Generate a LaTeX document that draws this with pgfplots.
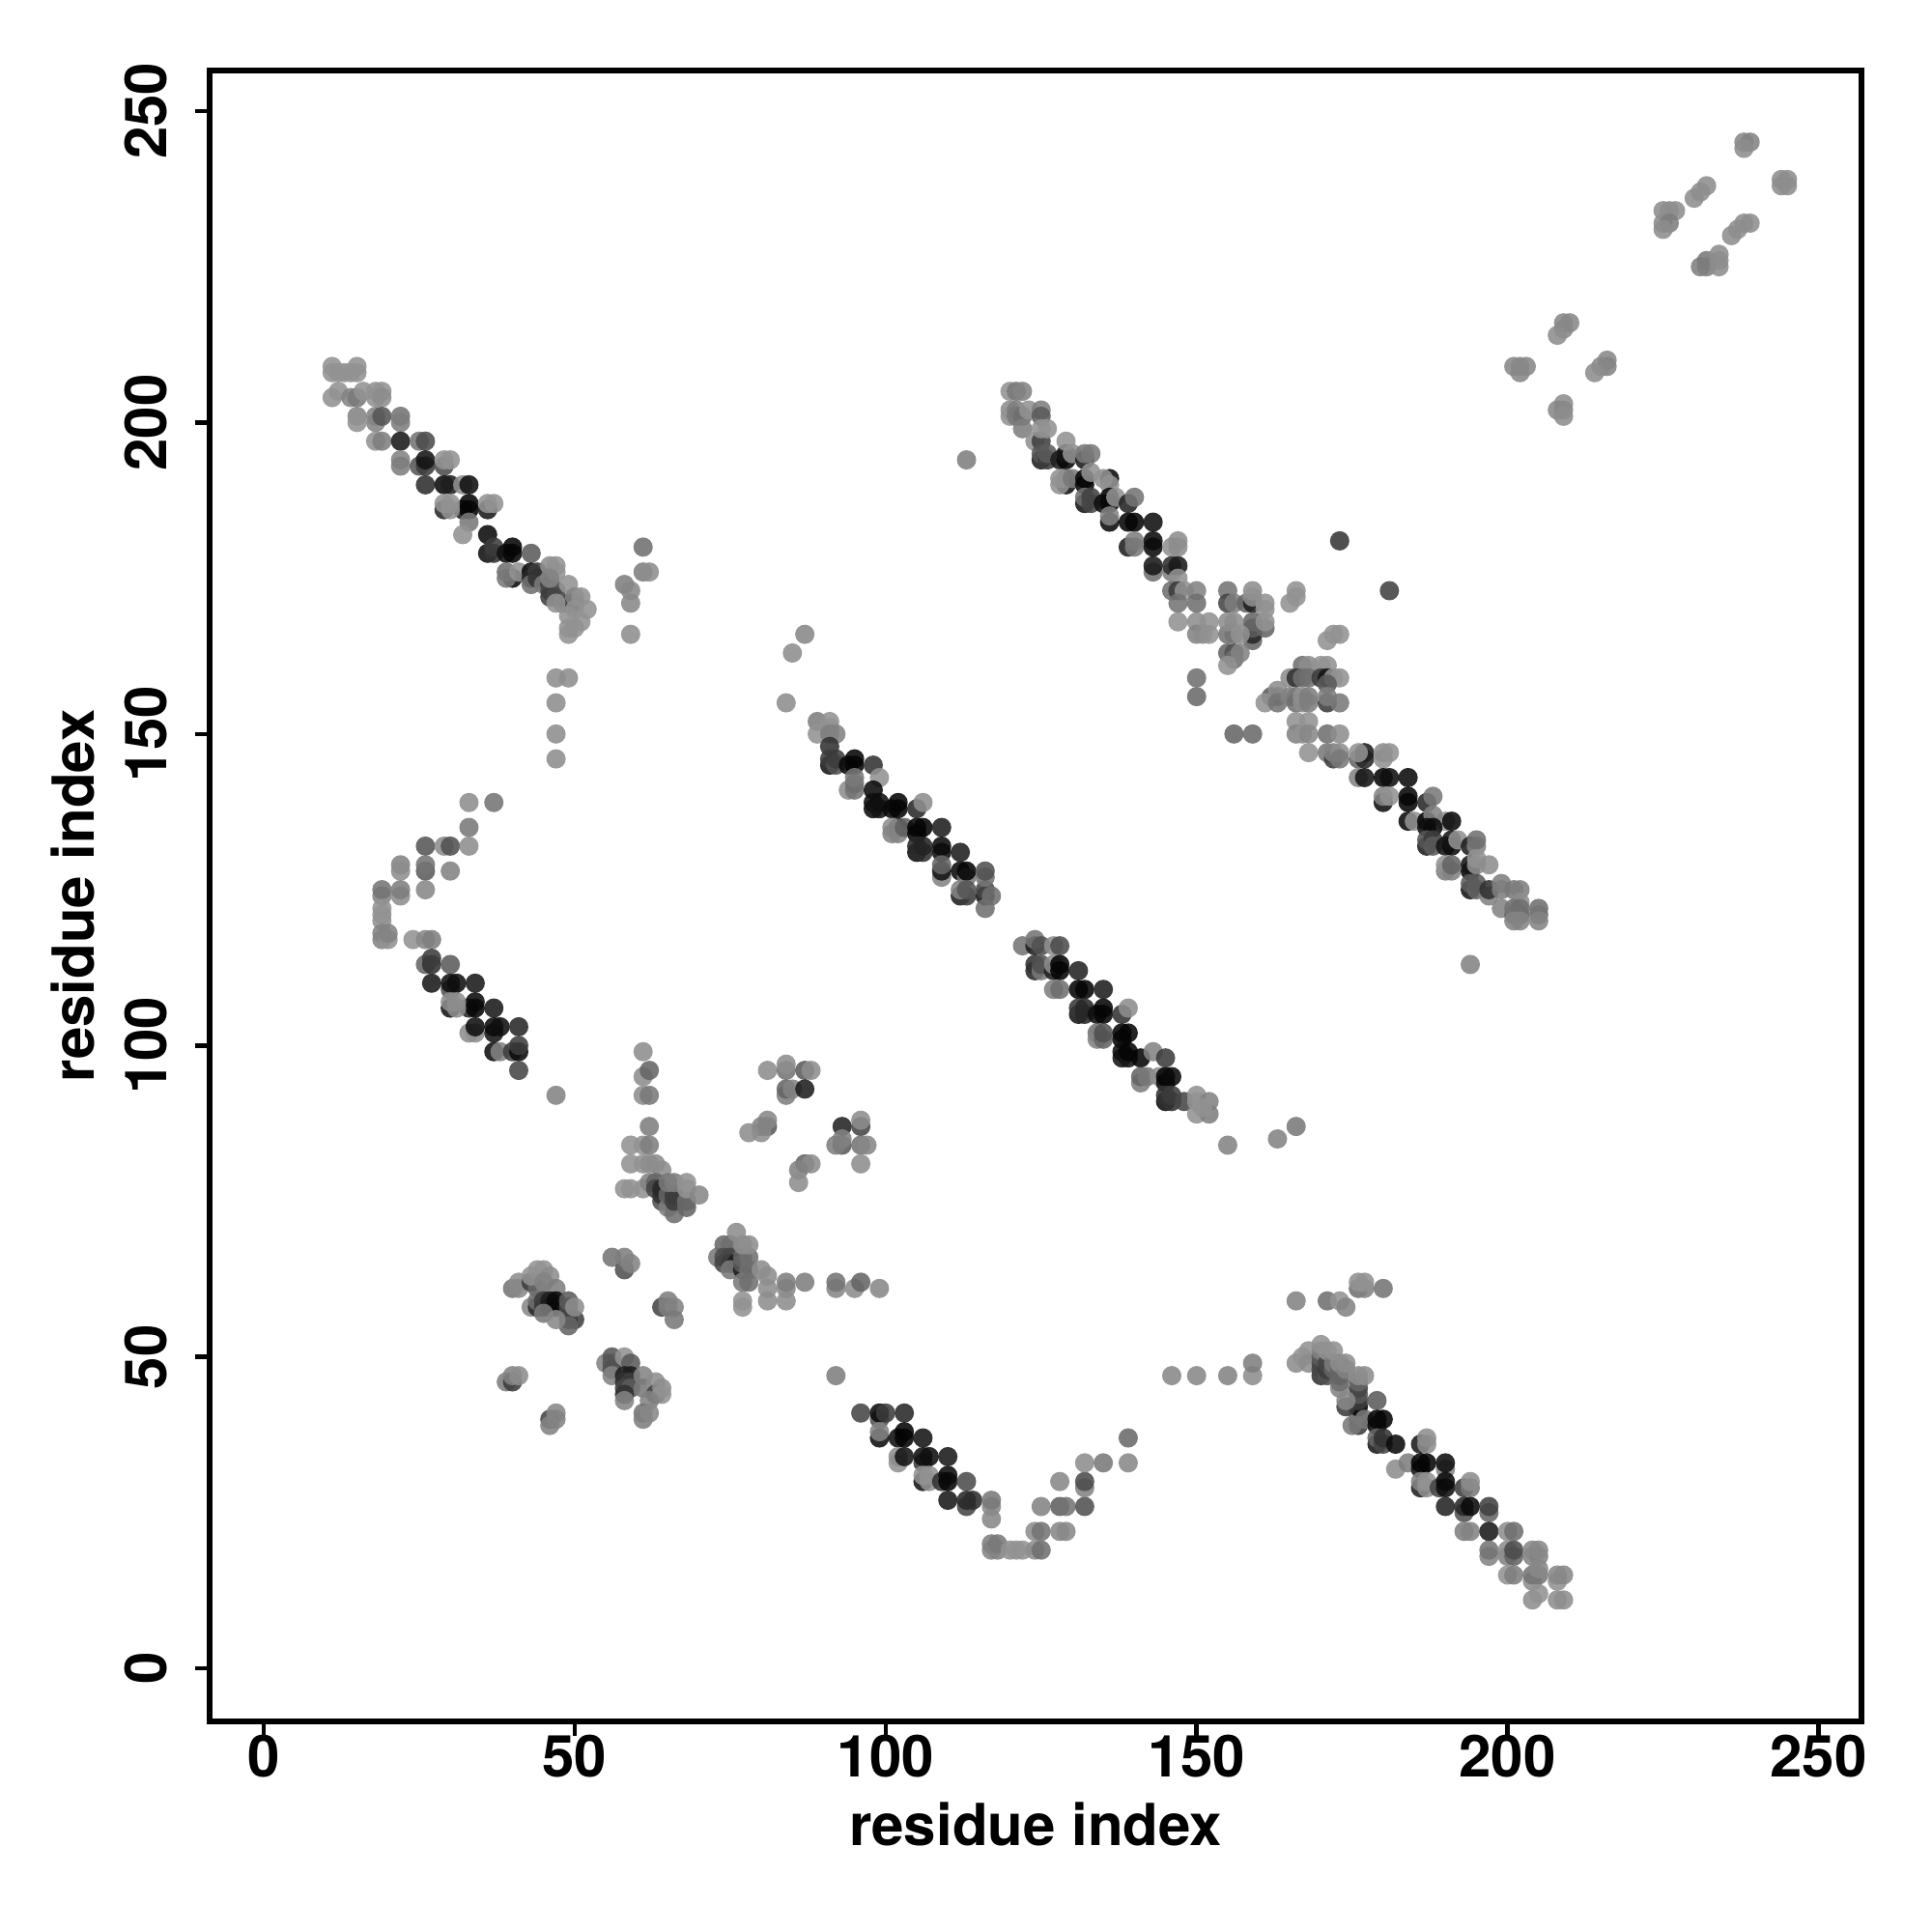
\documentclass[border=0pt]{standalone}
\usepackage{fontspec}
\setmainfont{TeX Gyre Heros}
\usepackage{pgfplots}
\pgfplotsset{compat=1.18}
\begin{document}
\begin{tikzpicture}[x=1pt,y=1pt]
\path[use as bounding box] (0,0) rectangle (400,400);
\begin{axis}[
  at={(43.4pt,43.6pt)},anchor=south west,
  width=342pt,height=341.8pt,scale only axis,
  xmin=-8.7,xmax=256.9,ymin=-8.5,ymax=256.5,
  axis line style={line width=1.2pt},
  xtick={0,50,100,150,200,250},ytick={0,50,100,150,200,250},
  tick align=outside,tick pos=left,
  tick style={black,line width=0.9pt},
  major tick length=3pt,
  /pgf/number format/assume math mode=true,
  tick label style={font=\bfseries\fontsize{12}{14}\selectfont},
  xticklabel style={anchor=center,yshift=-4.3pt},
  yticklabel style={rotate=90,anchor=center,yshift=10.2pt},
  xlabel={residue index},ylabel={residue index},
  label style={font=\bfseries\fontsize{12}{15}\selectfont},
  xlabel style={at={(axis description cs:0.5,-0.0625)},anchor=center},
  ylabel style={at={(axis description cs:-0.083,0.5)},anchor=center,rotate=0},
  colormap={g}{gray(0cm)=(0);gray(1cm)=(1)},
  point meta min=0,point meta max=255,
]
\addplot[scatter,only marks,mark=*,mark size=2pt,
  mark options={fill opacity=0.88,draw opacity=0,line width=0pt},
  scatter/use mapped color={fill=mapped color,draw=mapped color},
  scatter src=explicit]
table[row sep=crcr,x=x,y=y,meta=g]{x y g\\
11 209 145\\11 208 145\\15 209 145\\15 208 145\\12 208 145\\14 208 145\\13 208 145\\
12 205 145\\11 204 145\\14 204 130\\15 204 120\\16 205 145\\18 205 145\\19 205 145\\18 204 145\\19 204 140\\
15 201 130\\15 200 145\\18 201 130\\18 200 130\\19 201 85\\22 201 115\\22 200 125\\
18 197 145\\19 197 125\\22 197 25\\25 197 115\\26 197 75\\
22 194 130\\22 193 125\\25 193 85\\26 193 60\\26 194 20\\29 193 75\\29 194 145\\30 194 145\\
26 190 45\\29 190 10\\30 190 30\\32 190 140\\33 190 15\\
29 186 40\\32 186 30\\33 186 5\\33 187 5\\36 186 25\\29 187 145\\30 186 145\\30 187 145\\36 187 145\\37 187 145\\
33 184 120\\32 182 145\\
36 182 10\\36 179 15\\37 179 50\\37 180 60\\39 179 15\\40 180 5\\40 179 5\\43 179 90\\
40 175 10\\39 176 110\\39 175 120\\41 176 145\\43 176 10\\43 175 40\\44 176 60\\43 174 110\\44 175 50\\45 174 120\\
46 174 60\\46 173 70\\47 173 90\\46 172 60\\47 172 70\\48 171 100\\49 171 80\\50 171 50\\
46 177 140\\47 177 145\\47 176 145\\46 175 130\\49 174 145\\47 171 145\\50 172 130\\51 172 145\\52 170 145\\50 170 145\\49 169 145\\51 168 145\\50 167 145\\49 167 145\\49 166 145\\
61 180 110\\58 174 125\\59 173 135\\59 171 135\\59 166 140\\61 176 125\\62 176 140\\
47 159 140\\49 159 140\\47 155 140\\47 150 140\\47 146 140\\
120 205 145\\121 205 120\\122 205 130\\120 202 140\\120 201 145\\121 202 125\\121 201 120\\122 201 110\\123 202 145\\125 202 125\\125 201 90\\
122 199 125\\124 197 145\\125 197 65\\125 199 145\\126 199 145\\
125 194 30\\125 195 85\\126 194 60\\126 195 90\\
128 194 30\\129 194 5\\129 195 20\\129 197 145\\130 195 145\\132 194 25\\132 195 120\\133 195 120\\
129 190 15\\129 191 110\\128 191 145\\128 190 145\\130 191 120\\132 191 10\\132 190 5\\136 191 10\\133 192 145\\135 191 145\\136 190 145\\
132 187 20\\132 188 110\\133 188 65\\133 187 70\\135 187 15\\136 187 5\\136 188 10\\137 188 145\\139 187 35\\140 188 115\\
136 184 10\\136 185 130\\139 184 5\\140 184 5\\143 184 15\\
139 180 30\\140 181 125\\140 180 120\\143 180 10\\143 181 10\\146 180 145\\147 181 140\\147 180 140\\
143 176 110\\143 177 25\\146 176 125\\146 177 45\\147 177 25\\147 175 145\\
146 173 110\\147 173 60\\148 173 145\\147 171 115\\150 173 130\\150 171 110\\
147 168 145\\150 168 140\\150 166 130\\151 166 140\\152 168 145\\152 166 145\\
150 159 110\\150 156 105\\156 150 100\\159 150 105\\
155 173 115\\155 171 70\\156 171 125\\158 171 100\\159 171 30\\159 173 140\\159 172 145\\161 171 145\\161 170 145\\159 165 100\\159 166 40\\159 167 90\\159 168 100\\161 167 100\\161 168 145\\
155 166 115\\156 166 115\\155 168 140\\156 168 140\\157 166 145\\155 163 100\\156 163 80\\156 162 110\\157 163 130\\155 161 145\\
165 171 145\\166 173 145\\166 172 145\\171 165 145\\172 166 145\\173 166 145\\
167 161 110\\168 161 140\\170 161 145\\171 161 145\\165 159 140\\166 159 50\\167 159 110\\168 159 110\\170 159 60\\171 159 20\\172 159 145\\173 159 145\\171 158 90\\
162 156 90\\163 156 100\\163 157 140\\161 155 145\\163 155 115\\165 156 130\\166 156 120\\166 155 110\\167 156 145\\167 155 140\\168 156 125\\168 155 125\\171 155 60\\171 156 125\\173 155 120\\
166 152 145\\168 152 145\\166 150 130\\167 150 145\\168 150 135\\171 150 110\\173 150 140\\168 147 145\\171 147 120\\172 146 60\\172 147 130\\173 147 140\\173 146 120\\176 146 100\\177 146 40\\177 147 30\\176 147 145\\176 143 130\\177 143 20\\
173 181 55\\181 173 65\\194 113 130\\113 194 125\\
180 146 145\\180 147 140\\181 147 145\\180 143 5\\181 143 15\\184 143 10\\
180 139 15\\180 140 130\\181 140 145\\184 140 5\\184 139 5\\187 139 40\\188 140 120\\
184 136 10\\185 136 145\\187 136 5\\190 136 145\\191 136 10\\188 137 130\\
187 135 15\\188 135 10\\187 132 30\\187 133 85\\188 133 60\\188 132 90\\190 132 20\\191 132 10\\191 133 20\\192 133 145\\194 132 30\\195 132 130\\195 133 110\\
190 128 125\\190 129 145\\191 128 130\\191 129 100\\194 128 5\\194 129 20\\195 130 145\\195 129 145\\197 129 140\\
194 125 20\\194 126 90\\195 125 100\\195 126 90\\197 124 130\\197 125 50\\199 126 125\\199 125 125\\199 122 130\\201 125 120\\202 125 125\\202 123 140\\
201 121 105\\202 121 100\\201 122 115\\202 122 110\\201 120 130\\202 120 130\\205 122 110\\205 121 115\\205 120 130\\
84 155 140\\85 163 140\\87 166 135\\89 152 125\\89 150 145\\91 152 145\\91 151 145\\91 150 125\\92 150 130\\
91 148 50\\91 145 20\\91 146 60\\92 145 80\\92 146 60\\94 145 10\\95 145 5\\95 146 5\\98 145 50\\
94 141 140\\95 141 115\\95 142 110\\95 143 120\\99 143 145\\
98 141 10\\98 138 10\\98 139 15\\99 138 20\\99 139 15\\101 138 10\\102 138 5\\102 139 5\\105 138 40\\106 139 140\\
102 135 40\\101 135 140\\101 134 130\\102 134 130\\103 135 95\\105 134 5\\105 135 5\\106 135 5\\109 135 30\\
105 131 15\\105 132 40\\106 131 45\\106 132 35\\109 131 10\\109 132 10\\112 131 30\\
109 127 130\\109 128 20\\109 129 100\\112 128 10\\113 127 120\\113 128 5\\112 124 30\\113 124 60\\112 125 130\\113 125 85\\
116 124 20\\116 125 70\\116 127 115\\116 128 80\\117 124 110\\116 122 110\\
122 116 115\\124 116 30\\124 117 115\\125 116 80\\127 116 140\\128 116 75\\
124 112 40\\124 113 50\\125 112 120\\125 113 80\\127 112 30\\127 113 140\\128 112 5\\128 113 5\\131 112 35\\
127 109 125\\128 109 110\\131 109 5\\132 109 5\\135 109 30\\
131 105 20\\131 106 55\\132 105 40\\132 106 40\\134 105 15\\135 105 5\\135 106 5\\138 105 50\\139 106 140\\
134 102 110\\134 101 130\\135 101 100\\135 102 80\\138 101 5\\138 102 5\\139 102 5\\
138 98 20\\138 99 15\\139 98 20\\139 99 5\\141 98 5\\143 99 130\\145 98 60\\
141 94 125\\141 95 100\\142 95 120\\144 95 140\\145 94 15\\145 95 5\\146 95 10\\
145 91 15\\145 92 50\\146 91 50\\146 92 60\\148 91 70\\150 92 145\\150 91 145\\150 89 145\\152 91 130\\152 89 125\\151 90 145\\
155 84 130\\163 85 130\\166 87 120\\
33 139 140\\37 139 115\\33 135 120\\26 132 85\\29 132 140\\30 132 80\\33 132 140\\
22 129 130\\22 128 140\\26 128 90\\26 129 115\\30 128 130\\
19 124 130\\19 125 115\\22 124 140\\22 125 125\\26 125 135\\
19 122 145\\19 121 145\\19 120 145\\19 117 130\\19 118 130\\20 117 145\\20 118 130\\24 117 145\\26 117 135\\27 117 125\\
26 113 100\\27 113 50\\27 114 60\\30 113 90\\
30 109 80\\27 110 25\\30 110 15\\31 110 15\\34 110 25\\
30 106 20\\33 106 40\\34 106 5\\34 107 10\\37 106 25\\30 107 140\\31 107 140\\31 106 140\\
33 102 140\\34 102 140\\34 103 15\\37 102 20\\37 103 10\\38 103 15\\41 103 40\\
37 99 15\\38 99 130\\40 99 60\\41 99 10\\41 100 60\\41 96 70\\47 92 130\\
61 99 140\\61 95 140\\62 96 100\\61 92 140\\62 92 120\\62 87 125\\
59 84 145\\61 84 145\\62 84 125\\59 81 145\\61 81 145\\62 81 140\\63 81 140\\64 80 140\\
58 77 145\\59 77 145\\61 77 145\\62 78 130\\63 78 100\\63 77 70\\64 75 80\\64 76 50\\64 77 40\\65 74 125\\65 76 100\\66 73 110\\66 75 60\\66 76 60\\65 78 120\\66 78 125\\68 75 110\\68 74 100\\68 78 145\\68 77 145\\70 76 135\\
81 96 140\\84 96 115\\84 97 140\\87 96 90\\88 96 140\\84 92 125\\84 93 100\\85 93 130\\87 93 30\\
81 87 90\\81 88 135\\80 86 140\\80 87 130\\78 86 140\\
87 81 100\\88 81 140\\86 80 130\\86 78 140\\
93 87 35\\96 87 70\\96 88 140\\93 84 90\\93 85 130\\92 84 125\\96 84 115\\97 84 135\\96 81 140\\
56 66 115\\58 64 80\\58 66 125\\59 65 130\\
73 66 120\\74 68 105\\75 68 110\\74 66 75\\75 66 70\\74 65 70\\75 65 60\\76 65 30\\75 64 120\\77 64 30\\77 65 90\\77 66 100\\78 64 110\\78 66 110\\76 70 140\\77 68 140\\78 68 140\\
77 62 120\\78 62 110\\80 64 140\\81 63 140\\81 61 140\\84 61 135\\84 62 125\\87 62 125\\
77 59 145\\77 58 145\\81 59 140\\84 59 140\\
92 61 135\\92 62 115\\95 61 140\\96 62 100\\99 61 135\\
40 61 115\\41 62 140\\41 61 135\\43 62 60\\44 61 100\\43 63 145\\44 64 145\\45 64 145\\46 63 140\\45 62 130\\47 61 125\\
43 58 135\\44 58 40\\44 59 110\\45 58 60\\45 59 60\\46 58 20\\46 59 30\\47 58 15\\47 59 10\\49 56 60\\49 58 70\\49 59 90\\50 56 65\\49 55 100\\45 57 120\\47 56 135\\50 58 140\\
64 58 70\\65 59 125\\65 58 125\\66 58 130\\66 56 120\\92 47 125\\
39 46 125\\40 46 60\\40 47 130\\41 47 140\\
46 40 70\\46 39 130\\47 41 135\\47 40 130\\
55 49 130\\56 50 85\\56 49 85\\56 48 80\\58 50 145\\59 49 90\\56 47 130\\
58 47 30\\59 47 30\\58 46 50\\59 46 60\\58 45 70\\59 45 90\\58 44 50\\58 43 130\\
61 47 130\\61 45 120\\63 46 140\\63 44 70\\64 45 140\\64 44 145\\62 43 130\\61 41 115\\61 40 125\\62 41 135\\
96 41 70\\99 40 80\\99 41 10\\100 41 60\\103 41 40\\
99 37 15\\99 38 130\\102 37 15\\103 37 5\\103 38 5\\106 37 20\\
102 33 145\\102 34 140\\103 34 20\\106 33 60\\106 34 15\\107 34 15\\110 34 25\\
106 30 20\\106 31 145\\107 31 145\\107 30 145\\109 30 50\\110 30 5\\110 31 10\\113 30 75\\
110 27 25\\113 26 70\\113 27 40\\114 27 45\\117 26 135\\117 27 120\\117 24 135\\
125 26 130\\128 26 95\\129 26 115\\132 26 80\\128 30 135\\132 29 130\\132 30 75\\132 33 140\\135 33 120\\139 33 135\\139 37 105\\
124 22 140\\125 22 115\\128 22 135\\129 22 135\\
117 19 130\\117 20 125\\118 19 130\\118 20 120\\120 19 145\\121 19 145\\122 19 145\\124 19 140\\125 19 110\\
146 47 135\\150 47 135\\155 47 130\\159 47 140\\159 49 125\\
166 59 130\\171 59 110\\173 59 145\\174 58 130\\176 61 110\\177 61 130\\176 62 145\\177 62 145\\180 61 115\\
166 49 140\\167 50 145\\168 51 145\\168 49 140\\170 47 50\\170 48 70\\170 49 70\\170 50 90\\170 51 130\\170 52 145\\171 47 80\\171 48 60\\171 49 70\\171 51 145\\172 48 100\\172 49 120\\172 51 145\\
173 45 130\\173 46 110\\173 47 100\\173 48 100\\173 49 140\\174 48 130\\174 49 140\\
176 39 60\\176 40 80\\176 41 120\\176 42 5\\176 43 60\\176 44 85\\176 45 70\\176 46 100\\176 47 140\\177 47 140\\174 42 60\\174 43 135\\175 39 120\\177 40 120\\179 43 90\\
179 40 5\\180 40 5\\179 36 25\\179 39 10\\179 37 100\\180 36 70\\180 37 50\\182 36 10\\
186 36 25\\187 36 140\\187 37 140\\
182 32 140\\184 33 125\\186 32 20\\186 33 5\\187 33 5\\190 32 130\\190 33 15\\
186 29 30\\186 30 130\\187 29 140\\187 30 145\\189 29 70\\190 29 15\\190 30 10\\193 29 60\\194 29 120\\194 30 140\\
190 26 35\\193 25 80\\193 26 40\\194 26 10\\197 25 100\\197 26 65\\
193 22 125\\194 22 130\\197 22 25\\200 22 140\\201 22 110\\
197 18 130\\197 19 115\\200 18 130\\200 19 140\\201 18 100\\201 19 75\\204 18 130\\204 19 135\\205 18 130\\205 19 135\\
200 15 145\\201 15 125\\204 14 140\\204 15 115\\205 15 120\\205 16 135\\208 14 145\\208 15 135\\209 15 135\\
204 11 140\\205 12 145\\208 11 140\\209 11 140\\
238 245 135\\239 245 130\\238 244 140\\244 239 140\\245 239 140\\245 238 140\\244 238 140\\
232 238 140\\231 237 140\\230 236 140\\225 234 140\\226 234 140\\227 234 140\\225 232 140\\226 232 125\\225 231 140\\
238 232 140\\239 232 140\\237 231 140\\236 230 140\\
231 225 125\\232 226 120\\232 225 125\\234 227 140\\234 226 140\\234 225 140\\
209 216 135\\210 216 135\\209 215 135\\208 214 140\\
201 209 135\\202 209 135\\203 209 135\\202 208 135\\
216 210 135\\216 209 130\\215 209 135\\214 208 140\\
209 203 140\\208 202 135\\209 202 135\\209 201 140\\
};
\end{axis}
\end{tikzpicture}
\end{document}
